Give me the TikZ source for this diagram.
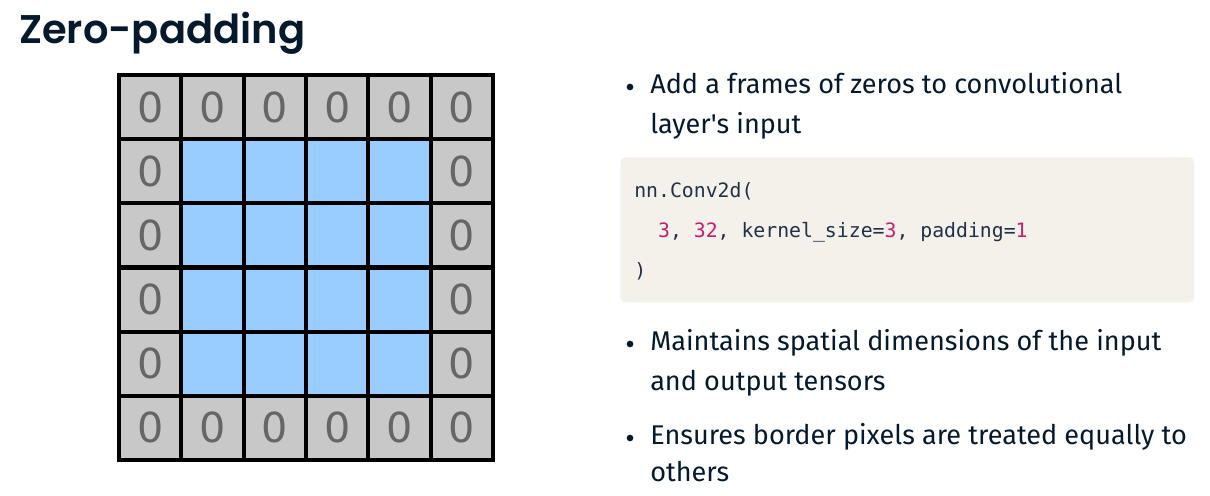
\documentclass[tikz,border=0pt]{standalone}
\usepackage{fontspec}
\setmainfont{Fira Sans}[Ligatures=TeXOff]
\setmonofont{DejaVu Sans Mono}
\newfontfamily\titlefont{Poppins}[UprightFont={* SemiBold}]
\newfontfamily\zerofont{DejaVu Sans}
\definecolor{navy}{HTML}{05192D}
\definecolor{codetxt}{HTML}{213147}
\definecolor{pinkc}{HTML}{C61E6E}
\definecolor{codebg}{HTML}{F4F1EA}
\definecolor{padgray}{HTML}{C8C8C8}
\definecolor{inblue}{HTML}{99CCFF}
\definecolor{zerogray}{HTML}{666666}
\begin{document}
\begin{tikzpicture}[x=0.75pt,y=-0.75pt,
  padcell/.style={draw=black,line width=3pt,fill=padgray,minimum width=46.75pt,minimum height=48.1pt,inner sep=0pt,outer sep=0pt,font=\zerofont\fontsize{31}{31}\selectfont,text=zerogray},
  incell/.style={draw=black,line width=3pt,fill=inblue,minimum width=46.75pt,minimum height=48.1pt,inner sep=0pt,outer sep=0pt},
  bodytext/.style={anchor=base west,inner sep=0pt,text=navy,font=\fontsize{20.3}{24}\selectfont},
  codetext/.style={anchor=base west,inner sep=0pt,text=codetxt,font=\ttfamily\fontsize{14.85}{17}\selectfont},
  bulletdot/.style={circle,fill=navy,inner sep=0pt,minimum size=5pt}]
\useasboundingbox (0,0) rectangle (1210,496);
% title
\node[anchor=base west,inner sep=0pt,text=navy,font=\titlefont\fontsize{30}{36}\selectfont] (title) at (19,43) {Zero-padding};
% grid
\foreach \r in {0,...,5}{
  \foreach \c in {0,...,5}{
    \pgfmathsetmacro{\cx}{119+62.33*(\c+0.5)}
    \pgfmathsetmacro{\cy}{75+64.17*(\r+0.5)}
    \pgfmathtruncatemacro{\edge}{(\r==0 || \r==5 || \c==0 || \c==5) ? 1 : 0}
    \ifnum\edge=1
      \node[padcell] (c-\r-\c) at (\cx,\cy) {0};
    \else
      \node[incell] (c-\r-\c) at (\cx,\cy) {};
    \fi
  }
}
% bullets
\node[bulletdot] (b1) at (630,87) {};
\node[bodytext] (t1a) at (650,93) {Add a frames of zeros to convolutional};
\node[bodytext] (t1b) at (650,133) {layer's input};
% code box
\node[draw=none,fill=codebg,rounded corners=4pt,minimum width=430.5pt,minimum height=108.75pt,anchor=north west,inner sep=0pt] (codebox) at (620,157) {};
\node[codetext] (code1) at (634,197) {nn.Conv2d(};
\node[codetext] (code2) at (634,237) {\ \ \textcolor{pinkc}{3}, \textcolor{pinkc}{32}, kernel\string_size=\textcolor{pinkc}{3}, padding=\textcolor{pinkc}{1}};
\node[codetext] (code3) at (634,277) {)};
\node[bulletdot] (b2) at (630,344) {};
\node[bodytext] (t2a) at (650,350) {Maintains spatial dimensions of the input};
\node[bodytext] (t2b) at (650,390) {and output tensors};
\node[bulletdot] (b3) at (630,438) {};
\node[bodytext] (t3a) at (650,444) {Ensures border pixels are treated equally to};
\node[bodytext] (t3b) at (650,481) {others};
\end{tikzpicture}
\end{document}
